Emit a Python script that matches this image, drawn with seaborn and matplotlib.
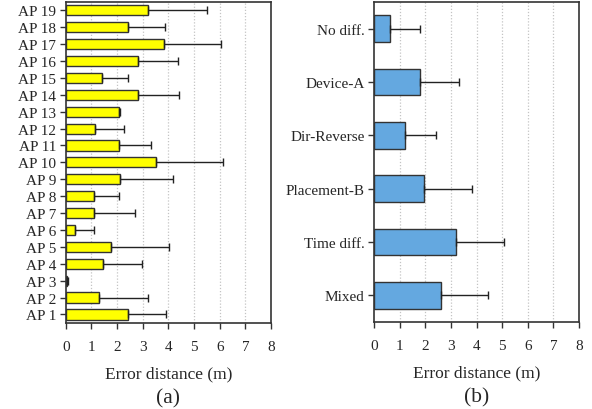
import matplotlib
matplotlib.use("Agg")
import matplotlib.pyplot as plt
import seaborn as sns
import pandas as pd
import numpy as np

# Per-AP mean error and upper end of the error bar (metres)
ap_labels = [f"AP {i}" for i in range(1, 20)]
ap_mean = [2.44, 1.28, 0.05, 1.44, 1.78, 0.35, 1.09, 1.09, 2.12, 3.53,
           2.07, 1.14, 2.07, 2.83, 1.43, 2.83, 3.81, 2.44, 3.19]
ap_upper = [3.91, 3.22, 0.08, 2.98, 4.01, 1.10, 2.68, 2.09, 4.19, 6.12,
            3.31, 2.27, 2.12, 4.42, 2.44, 4.36, 6.04, 3.86, 5.51]

# Per-condition mean error and upper end of the error bar (metres)
cond_labels = ["No diff.", "Device-A", "Dir-Reverse", "Placement-B", "Time diff.", "Mixed"]
cond_mean = [0.62, 1.80, 1.22, 1.94, 3.20, 2.60]
cond_upper = [1.80, 3.33, 2.40, 3.84, 5.07, 4.45]

x_ticks = list(range(0, 9))

sns.set_theme(style="white")
plt.rcParams["font.family"] = ["Liberation Serif", "DejaVu Serif"]
plt.rcParams["font.size"] = 11

fig = plt.figure(figsize=(5.92, 4.10), dpi=100)
ax_a = fig.add_axes([0.111, 0.21, 0.347, 0.783])
ax_b = fig.add_axes([0.632, 0.212, 0.346, 0.781])


def draw_panel(ax, labels, means, uppers, color, width, caption):
    order = labels[::-1] if labels is ap_labels else labels
    df = pd.DataFrame({"label": labels, "mean": means, "upper": uppers})
    sns.barplot(data=df, y="label", x="mean", order=order, orient="h",
                color=color, saturation=1, width=width, edgecolor="#333333",
                linewidth=1.0, errorbar=None, ax=ax, zorder=3)
    pos = {lab: i for i, lab in enumerate(order)}
    ys = np.array([pos[l] for l in df["label"]])
    m = df["mean"].to_numpy()
    u = df["upper"].to_numpy()
    ax.errorbar(m, ys, xerr=[np.zeros_like(m), u - m], fmt="none",
                ecolor="#222222", elinewidth=1.0, capsize=3, capthick=1.0,
                zorder=4)
    ax.set_xlim(0, 8)
    ax.set_xticks(x_ticks)
    ax.set_xticklabels([str(t) for t in x_ticks])
    ax.set_ylim(len(order) - 0.5, -0.5)
    for t in x_ticks[1:-1]:
        ax.axvline(t, color="#c4c4c4", linestyle=(0, (1, 1.5)), linewidth=0.9,
                   zorder=1)
    for sp in ax.spines.values():
        sp.set_visible(True)
        sp.set_color("#333333")
        sp.set_linewidth(1.2)
    ax.tick_params(axis="both", which="major", direction="out", length=4,
                   width=1, color="#333333", labelsize=11, pad=3,
                   bottom=True, left=True)
    ax.tick_params(axis="x", pad=8)
    ax.set_ylabel("")
    ax.set_xlabel("Error distance (m)", fontsize=12.5, labelpad=9)
    ax.text(0.5, -0.234, caption, transform=ax.transAxes, ha="center",
            va="center", fontsize=15.5)


draw_panel(ax_a, ap_labels, ap_mean, ap_upper, "#FFFF00", 0.6, "(a)")
draw_panel(ax_b, cond_labels, cond_mean, cond_upper, "#64A8E0", 0.5, "(b)")

fig.savefig("out.png", dpi=100)
